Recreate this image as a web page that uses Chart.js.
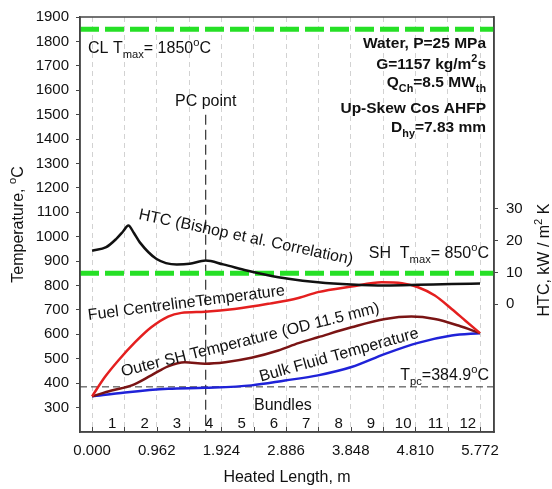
<!DOCTYPE html>
<html>
<head>
<meta charset="utf-8">
<script src="https://cdn.jsdelivr.net/npm/chart.js@4.4.1/dist/chart.umd.min.js"></script>
<style>
  html, body { margin: 0; padding: 0; background: #fff; }
  #wrap { width: 552px; height: 489px; }
</style>
</head>
<body>
<div id="wrap"><canvas id="chart"></canvas></div>
<script>
// heated length (m) vs temperature (°C)
const fuelX = [0, 0.19, 0.39, 0.64, 0.88, 1.13, 1.33, 1.68, 2.12, 2.62, 3.07, 3.36, 3.86, 4.31, 4.61, 4.85, 5.10, 5.35, 5.55, 5.772];
const fuelT = [346, 425, 493, 568, 629, 673, 688, 693, 704, 725, 749, 773, 796, 813, 809, 793, 759, 704, 657, 605];

const sheathX = [0, 0.29, 0.59, 0.88, 1.13, 1.38, 1.68, 1.98, 2.37, 2.77, 3.07, 3.36, 3.86, 4.36, 4.75, 5.10, 5.45, 5.772];
const sheathT = [346, 370, 391, 432, 469, 486, 480, 486, 504, 534, 564, 588, 629, 663, 673, 663, 636, 605];

const bulkX = [0, 0.49, 1.13, 1.68, 2.37, 2.87, 3.36, 3.86, 4.36, 4.85, 5.35, 5.772];
const bulkT = [346, 362, 377, 381, 391, 411, 432, 466, 520, 565, 595, 605];

// HTC in kW/m2K (right axis)
const htcX = [0, 0.21, 0.36, 0.46, 0.54, 0.62, 0.71, 0.96, 1.26, 1.45, 1.69, 1.95, 2.30, 2.60, 2.92, 3.36, 3.86, 4.36, 4.85, 5.35, 5.772];
const htcV = [16.8, 17.9, 20.5, 22.8, 24.7, 22.4, 19.4, 14.2, 12.5, 12.7, 13.7, 12.5, 10.6, 9.2, 8.0, 6.9, 6.2, 5.9, 6.1, 6.4, 6.5];

// reference lines
const clTmax = 1850;
const shTmax = 850;
const tPc = 384.9;
const pcPointX = 1.69;
const pcLineTop = 1500;

// axes
const xMin = -0.18, xMax = 5.98;
const bundleEdges = [0, 0.481, 0.962, 1.443, 1.924, 2.405, 2.886, 3.367, 3.848, 4.329, 4.810, 5.291, 5.772];
const xTickLabels = ['0.000', '0.962', '1.924', '2.886', '3.848', '4.810', '5.772'];
const bundleLabels = ['1', '2', '3', '4', '5', '6', '7', '8', '9', '10', '11', '12'];
const yTicks = [300, 400, 500, 600, 700, 800, 900, 1000, 1100, 1200, 1300, 1400, 1500, 1600, 1700, 1800, 1900];
const htcTicks = [0, 10, 20, 30];

const FONT = '"Liberation Sans", Arial, sans-serif';
const pts = (xs, ys) => xs.map((x, i) => ({ x: x, y: ys[i] }));

function curve(data, color, axis) {
  return {
    data: data, borderColor: color, borderWidth: 2.5, yAxisID: axis,
    showLine: true, pointRadius: 0, fill: false, cubicInterpolationMode: 'monotone'
  };
}
function refLine(data, color, width, dash) {
  return {
    data: data, borderColor: color, borderWidth: width, borderDash: dash, yAxisID: 'y',
    showLine: true, pointRadius: 0, fill: false, tension: 0
  };
}

// text with sub / superscript parts
function richWidth(ctx, parts, size, weight) {
  let w = 0;
  parts.forEach(([t, mode]) => {
    ctx.font = weight + ' ' + (mode ? size * 0.7 : size) + 'px ' + FONT;
    w += ctx.measureText(t).width;
  });
  return w;
}
function drawRich(ctx, parts, x, y, size, weight, align) {
  const w = richWidth(ctx, parts, size, weight);
  let cx = align === 'right' ? x - w : align === 'center' ? x - w / 2 : x;
  ctx.textAlign = 'left';
  ctx.textBaseline = 'alphabetic';
  parts.forEach(([t, mode]) => {
    ctx.font = weight + ' ' + (mode ? size * 0.7 : size) + 'px ' + FONT;
    const dy = mode === 'sub' ? size * 0.3 : mode === 'sup' ? -size * 0.42 : 0;
    ctx.fillText(t, cx, y + dy);
    cx += ctx.measureText(t).width;
  });
}
function drawRotated(ctx, text, x, y, deg, size) {
  ctx.save();
  ctx.translate(x, y);
  ctx.rotate(deg * Math.PI / 180);
  drawRich(ctx, [[text, '']], 0, 0, size, 'normal', 'left');
  ctx.restore();
}

const annotations = {
  id: 'annotations',
  afterDraw(chart) {
    const { ctx, chartArea: a, scales } = chart;
    const xs = scales.x;
    ctx.save();
    ctx.fillStyle = '#111';

    // frame
    ctx.strokeStyle = '#444';
    ctx.lineWidth = 1.5;
    ctx.strokeRect(a.left, a.top, a.right - a.left, a.bottom - a.top);

    // small inward ticks at bundle edges
    ctx.lineWidth = 1;
    bundleEdges.forEach(v => {
      const px = Math.round(xs.getPixelForValue(v)) + 0.5;
      ctx.beginPath();
      ctx.moveTo(px, a.bottom);
      ctx.lineTo(px, a.bottom - 5);
      ctx.stroke();
    });

    // bundle numbers
    ctx.font = '15px ' + FONT;
    ctx.textAlign = 'center';
    ctx.textBaseline = 'alphabetic';
    bundleLabels.forEach((b, i) => {
      const mid = (bundleEdges[i] + bundleEdges[i + 1]) / 2;
      ctx.fillText(b, xs.getPixelForValue(mid) + 4, 428);
    });
    drawRich(ctx, [['Bundles', '']], 254, 410, 16, 'normal', 'left');

    // labels
    drawRich(ctx, [['CL T', ''], ['max', 'sub'], ['= 1850', ''], ['o', 'sup'], ['C', '']], 88, 53, 16, 'normal', 'left');
    drawRich(ctx, [['PC point', '']], xs.getPixelForValue(pcPointX), 106, 16, 'normal', 'center');
    drawRich(ctx, [['SH  T', ''], ['max', 'sub'], ['= 850', ''], ['o', 'sup'], ['C', '']], 489, 258, 16, 'normal', 'right');
    drawRich(ctx, [['T', ''], ['pc', 'sub'], ['=384.9', ''], ['o', 'sup'], ['C', '']], 489, 380, 16, 'normal', 'right');

    const R = 486, S = 15.5;
    drawRich(ctx, [['Water, P=25 MPa', '']], R, 48, S, 'bold', 'right');
    drawRich(ctx, [['G=1157 kg/m', ''], ['2', 'sup'], ['s', '']], R, 69, S, 'bold', 'right');
    drawRich(ctx, [['Q', ''], ['Ch', 'sub'], ['=8.5 MW', ''], ['th', 'sub']], R, 87, S, 'bold', 'right');
    drawRich(ctx, [['Up-Skew Cos AHFP', '']], R, 113, S, 'bold', 'right');
    drawRich(ctx, [['D', ''], ['hy', 'sub'], ['=7.83 mm', '']], R, 132, S, 'bold', 'right');

    // curve labels
    drawRotated(ctx, 'HTC (Bishop et al. Correlation)', 138, 219, 12, 16);
    drawRotated(ctx, 'Fuel CentrelineTemperature', 88.5, 320, -7.2, 16);
    drawRotated(ctx, 'Outer SH Temperature (OD 11.5 mm)', 122.5, 376.5, -14, 16);
    drawRotated(ctx, 'Bulk Fluid Temperature', 261, 381.5, -15.6, 16);

    // axis titles
    ctx.save();
    ctx.translate(17, (a.top + a.bottom) / 2);
    ctx.rotate(-Math.PI / 2);
    drawRich(ctx, [['Temperature, ', ''], ['o', 'sup'], ['C', '']], 0, 6, 16, 'normal', 'center');
    ctx.restore();
    ctx.save();
    ctx.translate(543, 260);
    ctx.rotate(-Math.PI / 2);
    drawRich(ctx, [['HTC, kW / m', ''], ['2', 'sup'], [' K', '']], 0, 6, 16, 'normal', 'center');
    ctx.restore();

    ctx.restore();
  }
};

new Chart(document.getElementById('chart'), {
  type: 'scatter',
  data: {
    datasets: [
      curve(pts(htcX, htcV), '#111111', 'y2'),
      curve(pts(fuelX, fuelT), '#e41f1f', 'y'),
      curve(pts(sheathX, sheathT), '#7a1414', 'y'),
      curve(pts(bulkX, bulkT), '#1f22d8', 'y'),
      refLine([{ x: xMin, y: clTmax }, { x: xMax, y: clTmax }], '#26e026', 5, [19, 6]),
      refLine([{ x: xMin, y: shTmax }, { x: xMax, y: shTmax }], '#26e026', 5, [19, 6]),
      refLine([{ x: xMin, y: tPc }, { x: xMax, y: tPc }], '#333333', 1, [7, 4]),
      refLine([{ x: pcPointX, y: pcLineTop }, { x: pcPointX, y: 200 }], '#333333', 1.2, [10, 5])
    ]
  },
  options: {
    responsive: true,
    maintainAspectRatio: false,
    animation: false,
    devicePixelRatio: 1,
    layout: { padding: { top: 16, left: 0, right: 0, bottom: 0 } },
    plugins: { legend: { display: false }, tooltip: { enabled: false } },
    scales: {
      x: {
        type: 'linear', min: xMin, max: xMax,
        afterBuildTicks: s => { s.ticks = bundleEdges.map(v => ({ value: v })); },
        afterFit: s => { s.height = 57; },
        grid: { color: '#d2d2d2', lineWidth: 1, drawTicks: false },
        border: { color: '#444', width: 1.5, dash: [5, 4] },
        ticks: {
          padding: 10, color: '#111', font: { family: FONT, size: 15 }, maxRotation: 0, autoSkip: false,
          callback: (v, i) => (i % 2 === 0 ? xTickLabels[i / 2] : '')
        },
        title: { display: true, text: 'Heated Length, m', color: '#111', font: { family: FONT, size: 16 }, padding: { top: 0, bottom: 2 } }
      },
      y: {
        type: 'linear', position: 'left', min: 200, max: 1900,
        afterBuildTicks: s => { s.ticks = yTicks.map(v => ({ value: v })); },
        afterFit: s => { s.width = 80; },
        grid: { drawOnChartArea: false, drawTicks: true, tickLength: 4, tickColor: '#444' },
        border: { color: '#444', width: 1.5 },
        ticks: { padding: 7, color: '#111', font: { family: FONT, size: 15 }, callback: v => String(v) }
      },
      y2: {
        type: 'linear', position: 'right', min: -40, max: 90,
        afterBuildTicks: s => { s.ticks = htcTicks.map(v => ({ value: v })); },
        afterFit: s => { s.width = 58; },
        grid: { drawOnChartArea: false, drawTicks: true, tickLength: 4, tickColor: '#444' },
        border: { color: '#444', width: 1.5 },
        ticks: { padding: 8, color: '#111', font: { family: FONT, size: 15 }, callback: v => String(v) }
      }
    }
  },
  plugins: [annotations]
});
</script>
</body>
</html>
